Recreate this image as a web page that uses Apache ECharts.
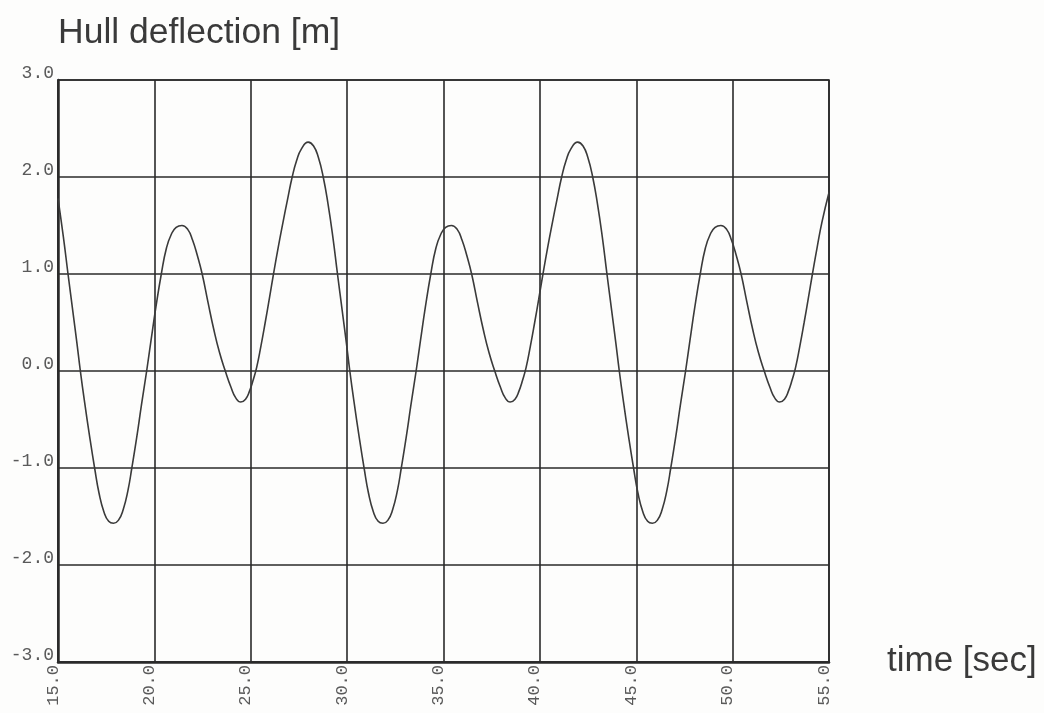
<!DOCTYPE html>
<html>
<head>
<meta charset="utf-8">
<script src="https://cdn.jsdelivr.net/npm/echarts@6/dist/echarts.min.js"></script>
<style>
html,body{margin:0;padding:0;background:#fdfdfc;}
#chart{width:1044px;height:713px;}
</style>
</head>
<body>
<div id="chart"></div>
<script>
// Data (time in seconds, deflection in metres)
var timeSec = [
  15.00,15.28,15.52,15.78,15.98,16.16,16.38,16.63,16.90,17.13,17.38,17.63,17.88,18.13,18.38,18.63,18.83,19.08,19.33,19.60,
  19.83,20.08,20.36,20.63,20.88,21.13,21.43,21.73,21.98,22.23,22.48,22.78,23.08,23.38,23.68,23.98,24.23,24.48,24.73,24.93,
  25.13,25.31,25.53,25.75,25.96,26.18,26.43,26.68,26.91,27.15,27.38,27.63,27.98,
  28.26,28.51,28.76,29.01,29.26,29.50,29.76,29.96,30.14,30.36,30.61,30.88,31.11,31.36,31.61,31.86,32.11,32.36,32.61,32.81,
  33.06,33.31,33.58,33.81,34.06,34.34,34.61,34.86,35.11,35.41,35.71,35.96,36.21,36.46,36.76,37.06,37.36,37.66,37.96,38.21,
  38.46,38.71,38.91,39.11,39.29,39.51,39.73,39.94,40.16,40.41,40.66,40.89,41.13,41.36,41.61,41.96,
  42.24,42.49,42.74,42.99,43.24,43.48,43.74,43.94,44.12,44.34,44.59,44.86,45.09,45.34,45.59,45.84,46.09,46.34,46.59,46.79,
  47.04,47.29,47.56,47.79,48.04,48.32,48.59,48.84,49.09,49.39,49.69,49.94,50.19,50.44,50.74,51.04,51.34,51.64,51.94,52.19,
  52.44,52.69,52.89,53.09,53.27,53.49,53.71,53.92,54.14,54.39,54.64,55.00
];
var deflection = [
  1.78,1.38,1.00,0.60,0.29,0.00,-0.32,-0.66,-1.00,-1.26,-1.45,-1.55,-1.57,-1.54,-1.43,-1.23,-1.00,-0.69,-0.35,0.00,
  0.32,0.66,1.00,1.27,1.41,1.48,1.50,1.46,1.35,1.19,1.00,0.71,0.43,0.19,0.00,-0.17,-0.28,-0.32,-0.29,-0.21,
  -0.09,0.04,0.26,0.50,0.74,1.00,1.28,1.54,1.77,2.00,2.17,2.29,2.36,
  2.32,2.20,2.00,1.72,1.38,1.00,0.60,0.29,0.00,-0.32,-0.66,-1.00,-1.26,-1.45,-1.55,-1.57,-1.54,-1.43,-1.23,-1.00,
  -0.69,-0.35,0.00,0.32,0.66,1.00,1.27,1.41,1.48,1.50,1.46,1.35,1.19,1.00,0.71,0.43,0.19,0.00,-0.17,-0.28,
  -0.32,-0.29,-0.21,-0.09,0.04,0.26,0.50,0.74,1.00,1.28,1.54,1.77,2.00,2.17,2.29,2.36,
  2.32,2.20,2.00,1.72,1.38,1.00,0.60,0.29,0.00,-0.32,-0.66,-1.00,-1.26,-1.45,-1.55,-1.57,-1.54,-1.43,-1.23,-1.00,
  -0.69,-0.35,0.00,0.32,0.66,1.00,1.27,1.41,1.48,1.50,1.46,1.35,1.19,1.00,0.71,0.43,0.19,0.00,-0.17,-0.28,
  -0.32,-0.29,-0.21,-0.09,0.04,0.26,0.50,0.74,1.00,1.28,1.54,1.84
];
var xTickLabels = ['15.0','20.0','25.0','30.0','35.0','40.0','45.0','50.0','55.0'];
var yTickLabels = ['-3.0','-2.0','-1.0','0.0','1.0','2.0','3.0'];
var yTitle = 'Hull deflection [m]';
var xTitle = 'time [sec]';

var points = timeSec.map(function (t, i) { return [t, deflection[i]]; });

var chart = echarts.init(document.getElementById('chart'), null, {renderer: 'canvas'});
var monoFont = '"Liberation Mono", "DejaVu Sans Mono", monospace';
var gridColor = '#2a2a2a';
chart.setOption({
  backgroundColor: '#fdfdfc',
  animation: false,
  grid: {left: 58, right: 215, top: 80, bottom: 51, show: true, borderColor: gridColor, borderWidth: 1.6, backgroundColor: 'transparent'},
  xAxis: {
    type: 'value', min: 15, max: 55, interval: 5,
    axisLine: {show: true, onZero: false, lineStyle: {color: gridColor, width: 2.5}},
    axisTick: {show: false},
    splitLine: {show: true, lineStyle: {color: gridColor, width: 1.6}},
    axisLabel: {
      rotate: 90, margin: 3, color: '#5a5a5a', fontFamily: monoFont, fontSize: 17,
      verticalAlign: 'bottom', lineHeight: 10,
      formatter: function (v) { return xTickLabels[Math.round((v - 15) / 5)]; }
    }
  },
  yAxis: {
    type: 'value', min: -3, max: 3, interval: 1,
    axisLine: {show: true, onZero: false, lineStyle: {color: gridColor, width: 2.5}},
    axisTick: {show: false},
    splitLine: {show: true, lineStyle: {color: gridColor, width: 1.6}},
    axisLabel: {
      margin: 4, color: '#5a5a5a', fontFamily: monoFont, fontSize: 18,
      verticalAlign: 'bottom', lineHeight: 14,
      formatter: function (v) { return yTickLabels[Math.round(v + 3)]; }
    }
  },
  series: [{
    type: 'line', data: points, smooth: 0.5, showSymbol: false,
    lineStyle: {color: '#3a3a3a', width: 1.6}
  }],
  graphic: [
    {type: 'text', left: 58, top: 15, style: {text: yTitle, fill: '#3a3a3a', font: '35.5px "Liberation Sans", Arial, sans-serif'}},
    {type: 'text', left: 887, top: 644, style: {text: xTitle, fill: '#3a3a3a', font: '35px "Liberation Sans", Arial, sans-serif'}}
  ]
});
</script>
</body>
</html>
